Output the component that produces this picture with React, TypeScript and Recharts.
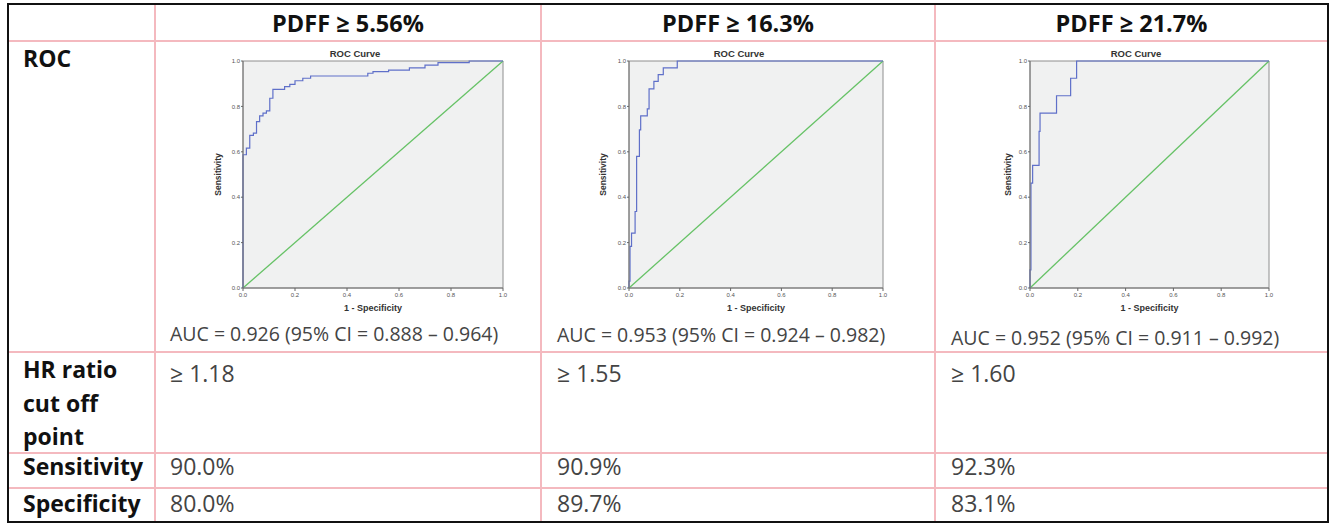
import React from "react";
import { LineChart, Line, XAxis, YAxis, ReferenceArea } from "recharts";

const columnHeaders = ["PDFF ≥ 5.56%", "PDFF ≥ 16.3%", "PDFF ≥ 21.7%"];
const rowLabels = ["ROC", "HR ratio\ncut off\npoint", "Sensitivity", "Specificity"];
const aucTexts = [
  "AUC = 0.926 (95% CI = 0.888 – 0.964)",
  "AUC = 0.953 (95% CI = 0.924 – 0.982)",
  "AUC = 0.952 (95% CI = 0.911 – 0.992)",
];
const cutOffPoints = ["≥ 1.18", "≥ 1.55", "≥ 1.60"];
const sensitivityValues = ["90.0%", "90.9%", "92.3%"];
const specificityValues = ["80.0%", "89.7%", "83.1%"];

const axisTicks = [0, 0.2, 0.4, 0.6, 0.8, 1.0];

// 1 - specificity (x) and sensitivity (y)
const fpr556 = [0, 0, 0.013, 0.026, 0.04, 0.052, 0.064, 0.077, 0.09, 0.103, 0.115, 0.16, 0.18, 0.2, 0.23, 0.26, 0.48, 0.5, 0.56, 0.64, 0.7, 0.75, 0.87, 1];
const tpr556 = [0, 0.587, 0.616, 0.672, 0.682, 0.733, 0.758, 0.77, 0.78, 0.836, 0.875, 0.887, 0.897, 0.913, 0.924, 0.934, 0.946, 0.953, 0.96, 0.97, 0.982, 0.993, 1, 1];

const fpr163 = [0, 0, 0.004, 0.01, 0.024, 0.03, 0.041, 0.046, 0.072, 0.079, 0.098, 0.115, 0.135, 0.19, 1];
const tpr163 = [0, 0.03, 0.183, 0.242, 0.337, 0.58, 0.697, 0.758, 0.789, 0.877, 0.91, 0.94, 0.97, 1, 1];

const fpr217 = [0, 0, 0.004, 0.011, 0.038, 0.042, 0.111, 0.17, 0.195, 1];
const tpr217 = [0, 0.08, 0.462, 0.54, 0.69, 0.77, 0.847, 0.924, 1, 1];

const chanceFpr = [0, 1];
const chanceTpr = [0, 1];

const toPoints = (fpr: number[], tpr: number[]) =>
  fpr.map((x, i) => ({ fpr: x, tpr: tpr[i] }));

const curves = [
  toPoints(fpr556, tpr556),
  toPoints(fpr163, tpr163),
  toPoints(fpr217, tpr217),
];
const chance = toPoints(chanceFpr, chanceTpr);

// layout of the three small plots
const panels = [
  { left: 200, width: 310, yAxisWidth: 43, yLabelX: 18, titleX: 355 },
  { left: 590, width: 300, yAxisWidth: 39, yLabelX: 13, titleX: 739 },
  { left: 990, width: 286, yAxisWidth: 40, yLabelX: 18, titleX: 1136 },
];
const colBounds = [155, 541, 935, 1328];
const valueLeft = [170, 557, 951];
const aucTop = [320.5, 321.5, 324.5];
const hLines = [41, 352, 453, 488];

const chartFont = "'Liberation Sans', Arial, sans-serif";
const tickStyle = { fontSize: 6, fill: "#555", fontFamily: chartFont };

function RocChart({ points, panel }: { points: { fpr: number; tpr: number }[]; panel: typeof panels[number] }) {
  return (
    <>
      <div
        style={{
          position: "absolute",
          left: panel.titleX - 50,
          top: 48,
          width: 100,
          textAlign: "center",
          fontFamily: chartFont,
          fontSize: 9.5,
          fontWeight: "bold",
          lineHeight: "12px",
          color: "#333",
        }}
      >
        ROC Curve
      </div>
      <div style={{ position: "absolute", left: panel.left, top: 45 }}>
        <LineChart width={panel.width} height={275} margin={{ top: 16, right: 7, bottom: 0, left: 0 }}>
          <XAxis
            dataKey="fpr"
            type="number"
            domain={[0, 1]}
            ticks={axisTicks}
            tickFormatter={(v: number) => v.toFixed(1)}
            tick={tickStyle}
            tickSize={3}
            tickMargin={2}
            tickLine={{ stroke: "#666" }}
            axisLine={{ stroke: "#777" }}
            height={32}
            label={{
              content: ({ viewBox }: any) => (
                <text
                  x={viewBox.x + viewBox.width / 2}
                  y={viewBox.y + 20}
                  textAnchor="middle"
                  dominantBaseline="central"
                  fontSize={9}
                  fontWeight="bold"
                  fill="#333"
                  fontFamily={chartFont}
                >
                  1 - Specificity
                </text>
              ),
            }}
          />
          <YAxis
            type="number"
            domain={[0, 1]}
            ticks={axisTicks}
            tickFormatter={(v: number) => v.toFixed(1)}
            tick={tickStyle}
            tickSize={2}
            tickMargin={1}
            tickLine={{ stroke: "#666" }}
            axisLine={{ stroke: "#777" }}
            width={panel.yAxisWidth}
            label={{
              content: ({ viewBox }: any) => {
                const x = viewBox.x + panel.yLabelX;
                const y = viewBox.y + viewBox.height / 2;
                return (
                  <text
                    x={x}
                    y={y}
                    transform={`rotate(-90 ${x} ${y})`}
                    textAnchor="middle"
                    dominantBaseline="central"
                    fontSize={8.5}
                    fontWeight="bold"
                    fill="#333"
                    fontFamily={chartFont}
                  >
                    Sensitivity
                  </text>
                );
              },
            }}
          />
          <ReferenceArea x1={0} x2={1} y1={0} y2={1} fill="#f0f1f1" fillOpacity={1} stroke="#8e8e8e" strokeWidth={1} />
          <Line
            data={chance}
            dataKey="tpr"
            type="linear"
            stroke="#66c266"
            strokeWidth={1.3}
            dot={false}
            activeDot={false}
            isAnimationActive={false}
          />
          <Line
            data={points}
            dataKey="tpr"
            type="stepAfter"
            stroke="#5f70c9"
            strokeWidth={1.2}
            dot={false}
            activeDot={false}
            isAnimationActive={false}
          />
        </LineChart>
      </div>
    </>
  );
}

function Cell({ left, top, width, text, bold, size = 23, lh = 24, align = "left", color }: any) {
  return (
    <div
      style={{
        position: "absolute",
        left,
        top,
        width,
        textAlign: align,
        fontSize: size,
        lineHeight: `${lh}px`,
        fontWeight: bold ? "bold" : "normal",
        color: color ?? (bold ? "#111" : "#444"),
        whiteSpace: "nowrap",
      }}
    >
      {text}
    </div>
  );
}

export default function App() {
  const hrLines = rowLabels[1].split("\n");
  return (
    <div
      style={{
        position: "absolute",
        left: 0,
        top: 0,
        width: 1334,
        height: 524,
        background: "#fff",
        fontFamily: "'Open Sans', sans-serif",
        overflow: "hidden",
      }}
    >
      {hLines.map((y) => (
        <div key={y} style={{ position: "absolute", left: 9, top: y - 1, width: 1318, height: 2, background: "#f4b9bf" }} />
      ))}
      {colBounds.slice(0, 3).map((x) => (
        <div key={x} style={{ position: "absolute", left: x - 1, top: 5, width: 2, height: 516, background: "#f4b9bf" }} />
      ))}
      <div
        style={{
          position: "absolute",
          left: 7,
          top: 3,
          width: 1322,
          height: 520,
          border: "2px solid #111",
          boxSizing: "border-box",
        }}
      />

      {columnHeaders.map((h, i) => (
        <Cell key={h} left={colBounds[i]} top={10.5} width={colBounds[i + 1] - colBounds[i]} text={h} bold size={23.5} align="center" />
      ))}

      <Cell left={23} top={45.5} text={rowLabels[0]} bold />
      {hrLines.map((t, i) => (
        <Cell key={t} left={23} top={357 + i * 33.5} text={t} bold />
      ))}
      <Cell left={23} top={454} text={rowLabels[2]} bold />
      <Cell left={23} top={490.5} text={rowLabels[3]} bold />

      {curves.map((pts, i) => (
        <RocChart key={i} points={pts} panel={panels[i]} />
      ))}

      {aucTexts.map((t, i) => (
        <Cell key={t} left={valueLeft[i]} top={aucTop[i]} text={t} size={19.5} lh={26} />
      ))}
      {cutOffPoints.map((t, i) => (
        <Cell key={"c" + i} left={valueLeft[i]} top={360.5} text={t} />
      ))}
      {sensitivityValues.map((t, i) => (
        <Cell key={"s" + i} left={valueLeft[i]} top={454} text={t} />
      ))}
      {specificityValues.map((t, i) => (
        <Cell key={"p" + i} left={valueLeft[i]} top={490.5} text={t} />
      ))}
    </div>
  );
}
